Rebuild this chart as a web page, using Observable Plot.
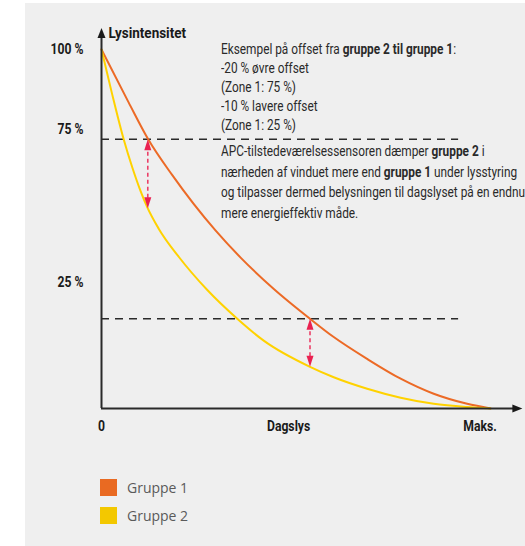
<!DOCTYPE html>
<html>
<head>
<meta charset="utf-8">
<script src="https://cdn.jsdelivr.net/npm/d3@7"></script>
<script src="https://cdn.jsdelivr.net/npm/@observablehq/plot@0.6"></script>
<style>
  html, body { margin: 0; padding: 0; background: #fff; }
  body { width: 525px; height: 546px; position: relative; overflow: hidden; }
  #panel { position: absolute; left: 25px; top: 3px; right: 0; bottom: 0; background: #efefef; }
  #chart { position: absolute; left: 0; top: 0; }
  .note { position: absolute; left: 221px; font-family: Roboto, sans-serif; font-size: 14px; color: #2a2a2a; white-space: nowrap; transform-origin: 0 0; }
  .note div { height: 19px; line-height: 19px; }
  .note span { display: inline-block; }
  .note b { font-weight: bold; }
  .legend { position: absolute; left: 100px; font-family: "Open Sans", sans-serif; font-size: 14px; color: #5a5a5a; }
  .legend div { position: relative; height: 28px; line-height: 17px; padding-left: 27px; }
  .legend i { position: absolute; left: 0; top: 0; width: 17px; height: 17px; }
</style>
</head>
<body>
<div id="panel"></div>
<div id="chart"></div>
<div class="note" id="note1" style="top:40px"></div>
<div class="note" id="note2" style="top:141px"></div>
<div class="legend" id="legend" style="top:479px"></div>
<script>
// ---- data ----
const seriesNames = ["Gruppe 1", "Gruppe 2"];
const seriesColors = ["#ec6a26", "#ffd200"];
const legendColors = ["#e96a22", "#f3c800"];

const group1X = [0, 7, 12, 18.2, 29.3, 35.7, 44.3, 53.6, 59.7, 68.3, 76.9, 85.4, 94, 100];
const group1Y = [100, 85.2, 75, 65.0, 49.6, 42.1, 33.3, 25, 19.9, 13.8, 8.3, 4.1, 1.3, 0];

const group2X = [0, 2.75, 5.7, 7.9, 10, 11.75, 14.7, 19.9, 27.2, 34.9, 41.7, 53.6, 59.7, 68.3, 76.9, 85.4, 94, 100];
const group2Y = [100, 87.5, 75, 67.2, 60.7, 56.1, 50.1, 42.2, 33.0, 25, 18.9, 11.6, 8.7, 5.5, 3.0, 1.3, 0.4, 0];

const offsetLevels = [75, 25];           // dashed zone levels
const offsetX = [11.9, 53.6];            // where the offset arrows sit
const offsetGroup1 = [75, 25];
const offsetGroup2 = [55.8, 11.6];

const xTicks = [0, 48.1, 97.3];
const xTickLabels = ["0", "Dagslys", "Maks."];
const yTicks = [100, 75, 25];
const yTickLabels = ["100 %", "75 %", "25 %"];
const yTitle = "Lysintensitet";

const note1 = [
  "Eksempel på offset fra <b>gruppe 2 til gruppe 1</b>:",
  "-20 % øvre offset",
  "(Zone 1: 75 %)",
  "-10 % lavere offset",
  "(Zone 1: 25 %)"
];
const note2 = [
  "APC-tilstedeværelsessensoren dæmper <b>gruppe 2</b> i",
  "nærheden af vinduet mere end <b>gruppe 1</b> under lysstyring",
  "og tilpasser dermed belysningen til dagslyset på en endnu",
  "mere energieffektiv måde."
];

// ---- layout constants ----
const xAxisEnd = 108.2, yAxisEnd = 106, dashEnd = 91.8;
const yLabelDy = [0, -10, -36];
const font = "Roboto, sans-serif";
const red = "#ea2150";

const g1 = group1X.map((x, i) => ({x, y: group1Y[i]}));
const g2 = group2X.map((x, i) => ({x, y: group2Y[i]}));
const arrows = offsetX.map((x, i) => ({x, top: offsetGroup1[i], bottom: offsetGroup2[i]}));

const arrowHead = (w, h) => ({
  draw(ctx) { ctx.moveTo(0, 0); ctx.lineTo(-w / 2, h); ctx.lineTo(w / 2, h); ctx.closePath(); }
});

const chart = Plot.plot({
  width: 525, height: 546,
  marginLeft: 101, marginRight: 35, marginTop: 49, marginBottom: 138,
  x: {domain: [0, 100], axis: null},
  y: {domain: [0, 100], axis: null},
  style: {background: "transparent", overflow: "visible"},
  marks: [
    Plot.ruleY(offsetLevels, {x1: 0, x2: dashEnd, stroke: "#2a2a2a", strokeWidth: 1.3, strokeDasharray: "8,6"}),
    Plot.line(g1, {x: "x", y: "y", stroke: seriesColors[0], strokeWidth: 2, curve: "monotone-x"}),
    Plot.line(g2, {x: "x", y: "y", stroke: seriesColors[1], strokeWidth: 2, curve: "monotone-x"}),
    Plot.ruleX(arrows, {x: "x", y1: "top", y2: "bottom", stroke: red, strokeOpacity: 0.85, strokeWidth: 1.6, strokeDasharray: "4,3", insetTop: 6, insetBottom: 6}),
    Plot.dot(arrows, {x: "x", y: "top", symbol: arrowHead(7, 11), r: 4, fill: red, stroke: null}),
    Plot.dot(arrows, {x: "x", y: "bottom", symbol: arrowHead(7, 11), r: 4, rotate: 180, fill: red, stroke: null}),
    Plot.ruleX([0], {y1: 0, y2: yAxisEnd - 2, stroke: "#2a2a2a", strokeWidth: 2}),
    Plot.ruleY([0], {x1: 0, x2: xAxisEnd - 1.5, stroke: "#2a2a2a", strokeWidth: 2}),
    Plot.dot([{x: 0, y: yAxisEnd}], {x: "x", y: "y", symbol: arrowHead(8, 10), r: 4, fill: "#1a1a1a", stroke: null}),
    Plot.dot([{x: xAxisEnd, y: 0}], {x: "x", y: "y", symbol: arrowHead(8, 10), r: 4, rotate: 90, fill: "#1a1a1a", stroke: null}),
    Plot.text([yTitle], {x: 0, y: yAxisEnd, text: d => d, dx: 7, dy: 5, textAnchor: "start", fontFamily: font, fontWeight: "bold", fontSize: 14.5, fill: "#1a1a1a"}),
    Plot.text(xTicks, {x: d => d, y: 0, text: (d, i) => xTickLabels[i], dy: 18, fontFamily: font, fontWeight: "bold", fontSize: 14.5, fill: "#1a1a1a"}),
    ...yTicks.map((t, i) => Plot.text([t], {x: 0, y: d => d, text: () => yTickLabels[i], dx: -18, dy: yLabelDy[i], textAnchor: "end", fontFamily: font, fontWeight: "bold", fontSize: 14.5, fill: "#1a1a1a"}))
  ]
});
document.getElementById("chart").appendChild(chart);

// condensed look (the reference uses a condensed typeface)
chart.querySelectorAll("text").forEach(t => {
  const len = t.getComputedTextLength();
  const f = t.textContent === yTitle ? 0.93 : 0.84;
  t.setAttribute("textLength", (len * f).toFixed(1));
  t.setAttribute("lengthAdjust", "spacingAndGlyphs");
});

document.getElementById("note1").innerHTML = note1.map(l => `<div><span>${l}</span></div>`).join("");
document.getElementById("note2").innerHTML = note2.map(l => `<div style="height:20.5px;line-height:20.5px"><span>${l}</span></div>`).join("");
const firstW = document.querySelector("#note1 span").getBoundingClientRect().width;
const sx = 235 / firstW;
document.querySelectorAll(".note").forEach(n => n.style.transform = `scaleX(${sx})`);

document.getElementById("legend").innerHTML = seriesNames.map((n, i) =>
  `<div><i style="background:${legendColors[i]}"></i>${n}</div>`).join("");
</script>
</body>
</html>
